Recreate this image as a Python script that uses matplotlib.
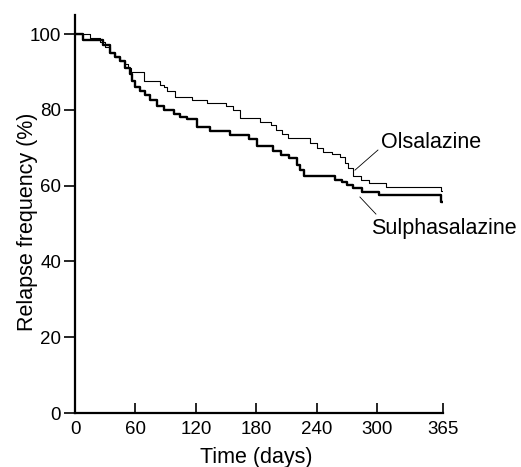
import matplotlib
matplotlib.use("Agg")
import matplotlib.pyplot as plt

plt.rcParams['font.family'] = ['Liberation Sans', 'DejaVu Sans']

# Olsalazine (thin line) step data
ols_t = [0, 15, 25, 30, 35, 40, 45, 50, 53, 56, 68, 84, 88, 91, 99, 116, 131,
         150, 157, 164, 184, 194, 199, 205, 211, 233, 240, 246, 255, 263, 268,
         271, 276, 284, 292, 309, 363, 365]
ols_v = [100, 99, 98, 96.5, 95, 94, 93, 92, 91, 90, 87.5, 86.5, 86, 85, 83.5,
         82.6, 81.7, 81, 80, 77.8, 76.8, 76, 74.7, 73.5, 72.5, 71.2, 70, 69,
         68.3, 67.6, 66, 64.6, 62.5, 61.5, 60.6, 59.7, 58.6, 58.6]

# Sulphasalazine (thick line) step data
sul_t = [0, 8, 28, 35, 40, 45, 50, 55, 57, 60, 64, 69, 74, 81, 88, 98, 104,
         111, 121, 134, 154, 173, 181, 196, 204, 212, 220, 223, 227, 258, 265,
         270, 276, 285, 302, 363, 365]
sul_v = [100, 98.5, 97, 95, 94, 93, 91, 89.5, 87.5, 86, 85, 84, 82.6, 81, 80,
         79, 78, 77.5, 75.6, 74.5, 73.4, 72.3, 70.4, 69.2, 68.1, 67.3, 65.4,
         64.1, 62.5, 61.5, 61, 60.2, 59.3, 58.4, 57.5, 55.8, 55.8]

xticks = [0, 60, 120, 180, 240, 300, 365]
yticks = [0, 20, 40, 60, 80, 100]

fig = plt.figure(figsize=(5.21, 4.67), dpi=100)
ax = fig.add_axes([0.144, 0.1156, 0.706, 0.852])

ax.step(ols_t, ols_v, where='post', color='black', lw=0.8)
ax.step(sul_t, sul_v, where='post', color='black', lw=1.7)

ax.set_xlim(0, 365)
ax.set_ylim(0, 105)
ax.set_xticks(xticks)
ax.set_yticks(yticks)
for s in ['top', 'right']:
    ax.spines[s].set_visible(False)
for s in ['left', 'bottom']:
    ax.spines[s].set_linewidth(1.6)

ax.tick_params(axis='x', direction='in', length=7, width=1.2, labelsize=13.5, pad=6)
ax.tick_params(axis='y', direction='out', length=8, width=1.2, labelsize=13.5, pad=2)

ax.set_xlabel('Time (days)', fontsize=15.5)
ax.set_ylabel('Relapse frequency (%)', fontsize=15.5)
ax.xaxis.set_label_coords(0.494, -0.085)
ax.yaxis.set_label_coords(-0.102, 0.48)

ax.text(353.5, 69.9, 'Olsalazine', fontsize=15.5, ha='center', va='baseline', clip_on=False)
ax.text(366.5, 47.2, 'Sulphasalazine', fontsize=15.5, ha='center', va='baseline', clip_on=False)
ax.plot([300.6, 277.8], [69.4, 64.1], color='black', lw=0.6, clip_on=False)
ax.plot([282.7, 298.6], [57, 52.5], color='black', lw=0.6, clip_on=False)

fig.savefig('out.png', dpi=100)
